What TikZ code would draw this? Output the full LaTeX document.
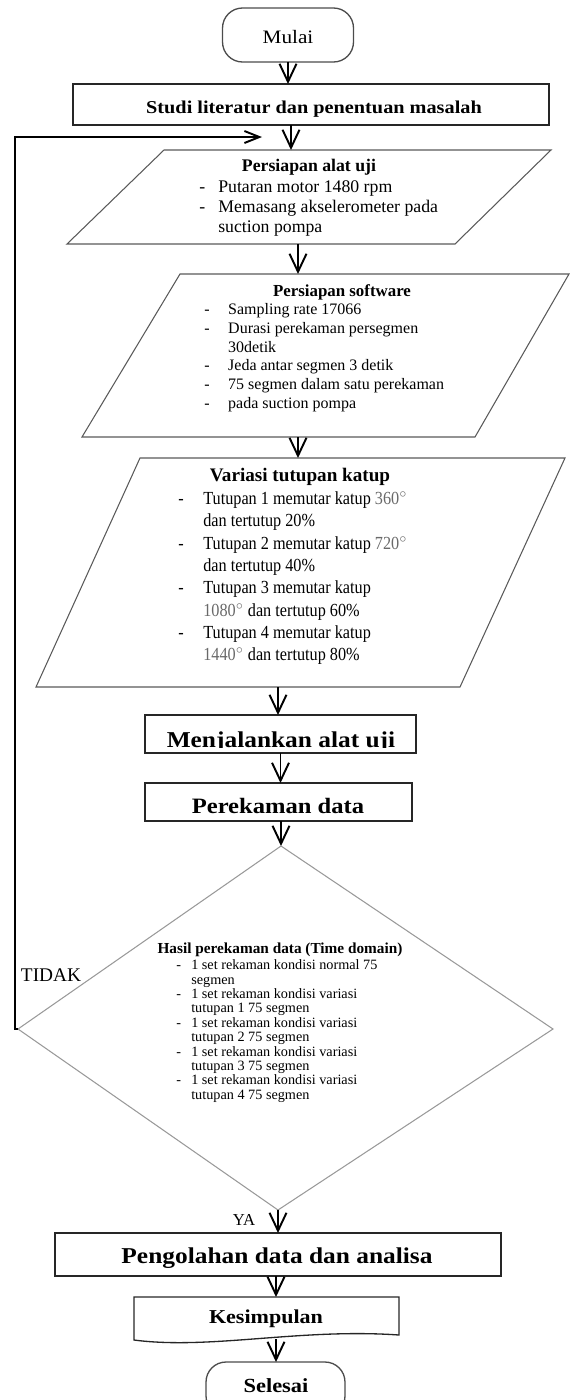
\documentclass[tikz,border=0pt]{standalone}
\usepackage{fontspec}
\setmainfont{Liberation Serif}
\newfontfamily\wf[FakeStretch=1.12]{Liberation Serif}
\newfontfamily\nf[FakeStretch=0.88]{Liberation Serif}
\usetikzlibrary{arrows.meta}
\definecolor{numgray}{RGB}{105,105,105}
\newcommand\dl[2]{\makebox[#1][l]{-}#2}
\newcommand\dgr[1]{{\color{numgray}#1$^{\circ}$}}
\begin{document}
\begin{tikzpicture}[x=0.02cm,y=-0.02cm,
  arr/.style={-{Straight Barb[length=0.36cm,width=0.34cm]},line width=1.1pt},
  larr/.style={-{Straight Barb[length=0.3cm,width=0.24cm]},line width=1.1pt},
  boxs/.style={draw=black!85,line width=0.75pt,inner sep=0pt,outer sep=0pt},
  term/.style={draw=black!70,line width=0.75pt,rounded corners=0.4cm,inner sep=0pt,outer sep=0pt},
  pline/.style={draw=black!65,line width=0.6pt},
  dline/.style={draw=black!40,line width=0.6pt},
  lst/.style={anchor=north west,inner sep=0pt,align=left},
  txt/.style={anchor=base,inner sep=0pt}]
\clip (0,0) rectangle (570,1400);
% terminals and boxes
\node[term,minimum width=2.62cm,minimum height=1.08cm] (mulai) at (288,35) {};
\node[txt,font=\wf\fontsize{10.8}{13}\selectfont] (mulaiT) at (288,43) {Mulai};
\node[boxs,minimum width=9.52cm,minimum height=0.82cm] (studi) at (311,104.5) {};
\node[txt,font=\wf\fontsize{10.3}{12}\selectfont\bfseries] (studiT) at (314,113) {Studi literatur dan penentuan masalah};
% parallelogram 1
\draw[pline] (164,150) -- (551,150) -- (455,244) -- (67,244) -- cycle;
\coordinate (p1n) at (291,150);
\coordinate (p1s) at (298,244);
\node[txt,font=\fontsize{10.1}{12}\selectfont\bfseries] (p1t) at (309,171) {Persiapan alat uji};
\node[lst,font=\fontsize{10.1}{11.6}\selectfont] (p1l) at (199,180) {\dl{10.8pt}{Putaran motor 1480 rpm}\\ \dl{10.8pt}{Memasang akselerometer pada}\\ \hspace*{10.8pt}suction pompa};
% parallelogram 2
\draw[pline] (180,274) -- (569,274) -- (475,437) -- (82,437) -- cycle;
\coordinate (p2n) at (298,274);
\coordinate (p2s) at (298,437);
\node[txt,font=\fontsize{9.6}{11}\selectfont\bfseries] (p2t) at (342,296) {Persiapan software};
\node[lst,font=\fontsize{9.1}{10.8}\selectfont] (p2l) at (204,302.6) {\dl{13.6pt}{Sampling rate 17066}\\ \dl{13.6pt}{Durasi perekaman persegmen}\\ \hspace*{13.6pt}30detik\\ \dl{13.6pt}{Jeda antar segmen 3 detik}\\ \dl{13.6pt}{75 segmen dalam satu perekaman}\\ \dl{13.6pt}{pada suction pompa}};
% parallelogram 3
\draw[pline] (140,458) -- (565,458) -- (460,687) -- (36,687) -- cycle;
\coordinate (p3n) at (298,458);
\coordinate (p3s) at (278,687);
\node[txt,font=\fontsize{10.9}{12}\selectfont\bfseries] (p3t) at (300,481) {Variasi tutupan katup};
\node[lst,font=\nf\fontsize{10.5}{12.7}\selectfont] (p3l) at (178,491.5) {\dl{14.2pt}{Tutupan 1 memutar katup \dgr{360}}\\ \hspace*{14.2pt}dan tertutup 20\%\\ \dl{14.2pt}{Tutupan 2 memutar katup \dgr{720}}\\ \hspace*{14.2pt}dan tertutup 40\%\\ \dl{14.2pt}{Tutupan 3 memutar katup}\\ \hspace*{14.2pt}\dgr{1080} dan tertutup 60\%\\ \dl{14.2pt}{Tutupan 4 memutar katup}\\ \hspace*{14.2pt}\dgr{1440} dan tertutup 80\%};
% process boxes
\node[boxs,minimum width=5.42cm,minimum height=0.76cm] (menj) at (280.5,734) {};
\begin{scope}
\clip (145,715) rectangle (416,747.3);
\node[txt,font=\wf\fontsize{12.9}{15}\selectfont\bfseries] (menjT) at (281,747) {Menjalankan alat uji};
\end{scope}
\node[boxs,minimum width=5.34cm,minimum height=0.76cm] (perek) at (278.5,802) {};
\node[txt,font=\wf\fontsize{12.5}{15}\selectfont\bfseries] (perekT) at (278,813) {Perekaman data};
% decision
\coordinate (dtop) at (281,846);
\coordinate (dleft) at (18,1029);
\coordinate (dright) at (553,1029);
\coordinate (dbot) at (278,1210);
\draw[dline] (dtop) -- (dright) -- (dbot) -- (dleft) -- cycle;
\node[txt,font=\fontsize{8.7}{10}\selectfont\bfseries] (dt) at (280,953.5) {Hasil perekaman data (Time domain)};
\node[lst,font=\fontsize{8.1}{8.2}\selectfont] (dl) at (176,959.4) {\dl{8.5pt}{1 set rekaman kondisi normal 75}\\ \hspace*{8.5pt}segmen\\ \dl{8.5pt}{1 set rekaman kondisi variasi}\\ \hspace*{8.5pt}tutupan 1 75 segmen\\ \dl{8.5pt}{1 set rekaman kondisi variasi}\\ \hspace*{8.5pt}tutupan 2 75 segmen\\ \dl{8.5pt}{1 set rekaman kondisi variasi}\\ \hspace*{8.5pt}tutupan 3 75 segmen\\ \dl{8.5pt}{1 set rekaman kondisi variasi}\\ \hspace*{8.5pt}tutupan 4 75 segmen};
\node[txt,font=\fontsize{11}{13}\selectfont] (tidak) at (51,981.4) {TIDAK};
\node[txt,font=\fontsize{9.5}{11}\selectfont] (ya) at (244,1225.5) {YA};
% final boxes
\node[boxs,minimum width=8.92cm,minimum height=0.86cm] (peng) at (278,1254.5) {};
\node[txt,font=\wf\fontsize{12.9}{15}\selectfont\bfseries] (pengT) at (277,1263) {Pengolahan data dan analisa};
\draw[boxs] (134,1297) -- (399,1297) -- (399,1335) .. controls (300,1328) and (210,1350) .. (134,1340) -- cycle;
\coordinate (kesN) at (276,1297);
\coordinate (kesS) at (276,1339);
\node[txt,font=\wf\fontsize{11.2}{13}\selectfont\bfseries] (kesT) at (266,1323) {Kesimpulan};
\node[term,minimum width=2.78cm,minimum height=1.08cm] (selesai) at (275.5,1389) {};
\node[txt,font=\wf\fontsize{11.4}{13}\selectfont\bfseries] (selT) at (276,1392) {Selesai};
% connectors
\draw[arr] (mulai.south) -- (mulai.south |- studi.north);
\draw[arr] (studi.south -| p1n) -- (p1n);
\draw[arr] (p1s) -- (p2n);
\draw[arr] (p2s) -- (p3n);
\draw[arr] (p3s) -- (p3s |- menj.north);
\draw[arr] (menj.south) -- (menj.south |- perek.north);
\draw[arr] (perek.south -| dtop) -- (dtop);
\draw[arr] (dbot) -- (dbot |- peng.north);
\draw[arr] (peng.south -| kesN) -- (kesN);
\draw[arr] (kesS) -- (kesS |- selesai.north);
\coordinate (loopc) at (15,137);
\coordinate (loopt) at (262,137);
\draw[larr] (dleft) -- (dleft -| loopc) -- (loopc) -- (loopt);
\end{tikzpicture}
\end{document}
